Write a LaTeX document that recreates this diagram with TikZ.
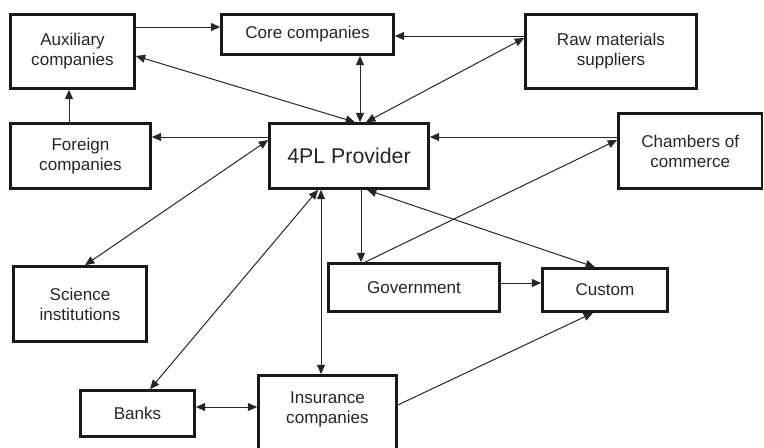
\documentclass[tikz,border=0pt]{standalone}
\usepackage{fontspec}
\setmainfont{Liberation Sans}
\usetikzlibrary{arrows.meta}
\tikzset{
  box/.style={draw=black!90, line width=2pt, inner sep=0pt, align=center,
    font=\fontsize{12.8}{15}\selectfont, text=black!85},
  arr/.style={line width=0.75pt, draw=black!85, -{Triangle[length=7pt,width=6pt]}},
  dbl/.style={line width=0.75pt, draw=black!85, {Triangle[length=7pt,width=6pt]}-{Triangle[length=7pt,width=6pt]}},
}
\begin{document}
\begin{tikzpicture}[x=0.75pt,y=-0.75pt]
\useasboundingbox (0,0) rectangle (764,447);
\node[box, minimum width=93pt, minimum height=55.5pt] (aux) at (72.5,51.5) {Auxiliary\\companies};
\node[box, minimum width=129pt, minimum height=30pt] (core) at (307.5,34.5) {Core companies};
\node[box, minimum width=128.25pt, minimum height=55.5pt] (raw) at (611,51.5) {Raw materials\\suppliers};
\node[box, minimum width=105pt, minimum height=48.75pt] (foreign) at (80.5,156) {Foreign\\companies};
\node[box, minimum width=119.25pt, minimum height=48.75pt, font=\fontsize{16}{19}\selectfont] (pl) at (349,156) {4PL Provider};
\node[box, minimum width=107.6pt, minimum height=56.25pt] (chambers) at (690.2,151) {Chambers of\\commerce};
\node[box, minimum width=99.75pt, minimum height=56.25pt] (science) at (80,304) {Science\\institutions};
\node[box, minimum width=128.25pt, minimum height=36pt] (gov) at (414,287.5) {Government};
\node[box, minimum width=93.75pt, minimum height=32.25pt] (custom) at (605,290) {Custom};
\node[box, minimum width=85.5pt, minimum height=34.5pt] (banks) at (137.5,413.5) {Banks};
\node[box, minimum width=103.5pt, minimum height=63.4pt] (ins) at (327.5,417.75) {};
\node[align=center, font=\fontsize{12.8}{15}\selectfont, text=black!85, inner sep=0pt] (inst) at (327.5,409) {Insurance\\companies};

\draw[arr] (aux.east |- 0,27) -- (core.west |- 0,27);
\draw[arr] (raw.west |- 0,36) -- (core.east |- 0,36);
\draw[dbl] (core.south -| 360,0) -- (pl.north -| 360,0);
\draw[dbl] (aux.east |- 0,56) -- (pl.north -| 355,0);
\draw[dbl] (pl.north -| 366,0) -- (raw.west |- 0,38);
\draw[arr] (foreign.north -| 69,0) -- (aux.south -| 69,0);
\draw[arr] (pl.west |- 0,137) -- (foreign.east |- 0,137);
\draw[dbl] (pl.west |- 0,140) -- (science.north -| 85,0);
\draw[arr] (chambers.west |- 0,137) -- (pl.east |- 0,137);
\draw[arr] (gov.north -| 365,0) -- (chambers.west |- 0,140);
\draw[arr] (pl.south -| 361,0) -- (gov.north -| 361,0);
\draw[dbl] (pl.south -| 367,0) -- (custom.north -| 595,0);
\draw[arr] (gov.east |- 0,283) -- (custom.west |- 0,283);
\draw[arr] (ins.east |- 0,405) -- (custom.south -| 593,0);
\draw[dbl] (pl.south -| 321,0) -- (ins.north -| 321,0);
\draw[dbl] (pl.south -| 318,0) -- (banks.north -| 150,0);
\draw[dbl] (banks.east |- 0,407) -- (ins.west |- 0,407);
\end{tikzpicture}
\end{document}
